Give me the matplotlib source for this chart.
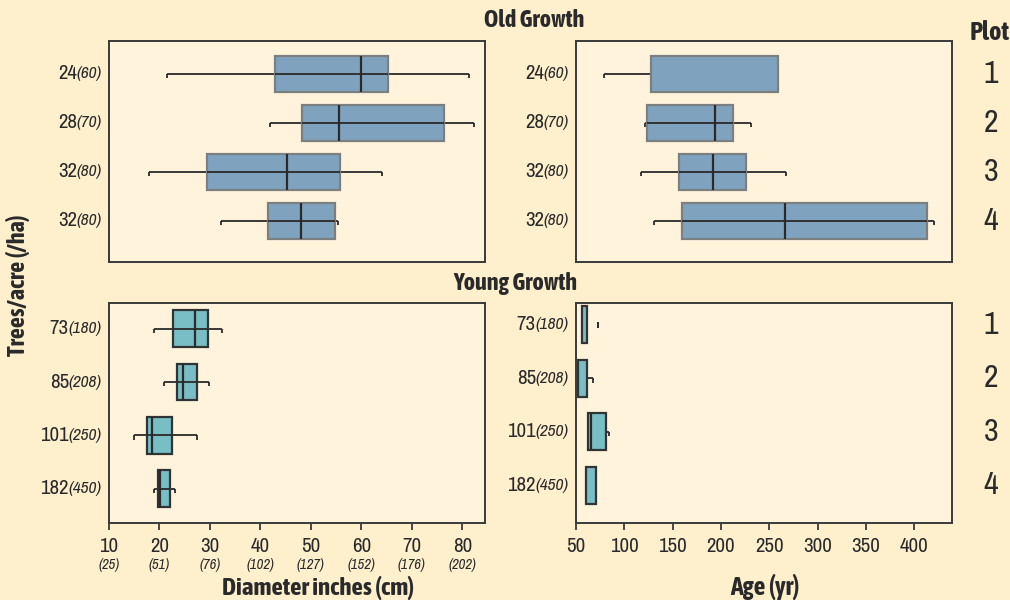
import matplotlib
matplotlib.use("Agg")
import matplotlib.pyplot as plt
from matplotlib import font_manager

# find a narrow face, and one that also has a bold weight
weights = {}
for f in font_manager.fontManager.ttflist:
    if 'Narrow' in f.name or 'Condensed' in f.name:
        w = f.weight if isinstance(f.weight, int) else font_manager.weight_dict.get(f.weight, 400)
        weights.setdefault(f.name, set()).add(w)
narrow = sorted(weights)
narrow_bold = [n for n in narrow if max(weights[n]) >= 600]
REG_FONT = (narrow[:1] if narrow else []) + ['DejaVu Sans']
BOLD_FONT = (narrow_bold[:1] if narrow_bold else ['Liberation Sans']) + ['DejaVu Sans']
plt.rcParams['font.family'] = REG_FONT

# Stand density labels (trees/acre and /ha)
old_density = ["24", "28", "32", "32"]
old_density_ha = ["(60)", "(70)", "(80)", "(80)"]
young_density = ["73", "85", "101", "182"]
young_density_ha = ["(180)", "(208)", "(250)", "(450)"]
plot_ids = ["1", "2", "3", "4"]

# Old growth diameter (inches): whisker low, q1, median, q3, whisker high
old_diam_lo = [21.4, 41.9, 17.9, 32.1]
old_diam_q1 = [42.8, 48.2, 29.5, 41.6]
old_diam_med = [60.0, 55.5, 45.2, 48.0]
old_diam_q3 = [65.3, 76.3, 55.7, 54.7]
old_diam_hi = [81.4, 82.3, 64.1, 55.3]

# Old growth age (yr)
old_age_lo = [79.3, 121.4, 117.2, 130.4]
old_age_q1 = [127.6, 123.8, 156.2, 159.7]
old_age_med = [None, 193.8, 191.7, 266.2]
old_age_q3 = [259.0, 212.8, 225.9, 413.1]
old_age_hi = [259.0, 231.4, 266.9, 420.7]

# Young growth diameter (inches)
young_diam_lo = [18.85, 20.95, 15.0, 18.85]
young_diam_q1 = [22.7, 23.4, 17.5, 19.7]
young_diam_med = [27.1, 24.6, 18.6, 20.2]
young_diam_q3 = [29.7, 27.4, 22.5, 22.0]
young_diam_hi = [32.3, 29.9, 27.5, 23.1]

# Young growth age (yr)
young_age_lo = [56.6, 51.7, 62.1, 60.7]
young_age_q1 = [56.6, 51.7, 62.1, 60.7]
young_age_med = [None, None, 65.9, None]
young_age_q3 = [61.4, 61.0, 80.7, 70.4]
young_age_hi = [61.4, 67.2, 84.1, 70.4]
young_age_outlier = [72.8, None, None, None]

diam_ticks = [10, 20, 30, 40, 50, 60, 70, 80]
diam_ticks_cm = ["(25)", "(51)", "(76)", "(102)", "(127)", "(152)", "(176)", "(202)"]
age_ticks = [50, 100, 150, 200, 250, 300, 350, 400]

BG = '#FEEFCD'
PANEL = '#FFF3DB'
OLD_FILL = '#7FA3BF'
OLD_EDGE = '#7C7F80'
YOUNG_FILL = '#79BEC4'
YOUNG_EDGE = '#2F3436'
INK = '#2A2A2A'


def draw_boxes(ax, lo, q1, med, q3, hi, fill, edge, height, through=True, cap=0.08):
    for i in range(len(q1)):
        y = i + 1
        if lo[i] < q1[i]:
            ax.hlines(y, lo[i], q1[i], color=INK, lw=1.3, zorder=2)
            ax.vlines(lo[i], y, y + cap, color=INK, lw=1.3, zorder=2)
        if hi[i] > q3[i]:
            ax.hlines(y, q3[i], hi[i], color=INK, lw=1.3, zorder=2)
            ax.vlines(hi[i], y, y + cap, color=INK, lw=1.3, zorder=2)
        ax.add_patch(plt.Rectangle((q1[i], y - height / 2), q3[i] - q1[i], height,
                                   facecolor=fill, edgecolor=edge, lw=1.6, zorder=3))
        if med[i] is not None:
            if through:
                ax.hlines(y, q1[i], q3[i], color=INK, lw=1.3, zorder=4)
            ax.vlines(med[i], y - height / 2, y + height / 2, color=INK, lw=1.6, zorder=4)


def style_axes(ax, xlim, ylim):
    ax.set_facecolor(PANEL)
    ax.set_xlim(*xlim)
    ax.set_ylim(*ylim)
    for s in ax.spines.values():
        s.set_color('#3A3A3A')
        s.set_linewidth(1.4)
        s.set_zorder(5)
    ax.set_yticks([])


def density_labels(ax, nums, has):
    for i, (n, h) in enumerate(zip(nums, has)):
        t = ax.annotate(h, xy=(0, i + 1), xycoords=('axes fraction', 'data'),
                        xytext=(-5, 0), textcoords='offset points',
                        ha='right', va='center', fontsize=12.5, style='italic', color=INK)
        ax.annotate(n, xy=(0, 0.5), xycoords=t, ha='right', va='center',
                    fontsize=15, color=INK)


fig = plt.figure(figsize=(10.1, 6.0), dpi=100)
fig.patch.set_facecolor(BG)

ax_od = fig.add_axes([0.1079, 0.5633, 0.3723, 0.3683])
ax_oa = fig.add_axes([0.5703, 0.5633, 0.3723, 0.3683])
ax_yd = fig.add_axes([0.1079, 0.1283, 0.3723, 0.3667])
ax_ya = fig.add_axes([0.5703, 0.1283, 0.3723, 0.3667])

draw_boxes(ax_od, old_diam_lo, old_diam_q1, old_diam_med, old_diam_q3, old_diam_hi,
           OLD_FILL, OLD_EDGE, 0.74)
draw_boxes(ax_oa, old_age_lo, old_age_q1, old_age_med, old_age_q3, old_age_hi,
           OLD_FILL, OLD_EDGE, 0.74)
draw_boxes(ax_yd, young_diam_lo, young_diam_q1, young_diam_med, young_diam_q3, young_diam_hi,
           YOUNG_FILL, YOUNG_EDGE, 0.69)
draw_boxes(ax_ya, young_age_lo, young_age_q1, young_age_med, young_age_q3, young_age_hi,
           YOUNG_FILL, YOUNG_EDGE, 0.69, through=False)
for i, v in enumerate(young_age_outlier):
    if v is not None:
        ax_ya.plot([v], [i + 1], marker='|', ms=5, mew=1.4, color=INK, zorder=4)

style_axes(ax_od, (10, 84.5), (4.84, 0.33))
style_axes(ax_oa, (50, 439), (4.84, 0.33))
style_axes(ax_yd, (10, 84.5), (4.64, 0.52))
style_axes(ax_ya, (50, 439), (4.71, 0.59))

for ax in (ax_od, ax_oa):
    ax.set_xticks([])

ax_yd.set_xticks(diam_ticks)
ax_yd.set_xticklabels([])
for x, cm in zip(diam_ticks, diam_ticks_cm):
    ax_yd.annotate(str(x), xy=(x, 0), xycoords=('data', 'axes fraction'),
                   xytext=(0, -10), textcoords='offset points',
                   ha='center', va='top', fontsize=15, color=INK)
    ax_yd.annotate(cm, xy=(x, 0), xycoords=('data', 'axes fraction'),
                   xytext=(0, -25), textcoords='offset points',
                   ha='center', va='top', fontsize=10.5, style='italic', color=INK)
ax_ya.set_xticks(age_ticks)
ax_ya.set_xticklabels([str(a) for a in age_ticks], fontsize=15, color=INK)
for ax in (ax_yd, ax_ya):
    ax.tick_params(axis='x', direction='out', length=5, width=1.3, color='#3A3A3A', pad=5)

density_labels(ax_od, old_density, old_density_ha)
density_labels(ax_oa, old_density, old_density_ha)
density_labels(ax_yd, young_density, young_density_ha)
density_labels(ax_ya, young_density, young_density_ha)

for ax in (ax_oa, ax_ya):
    for i, p in enumerate(plot_ids):
        ax.annotate(p, xy=(1, i + 1), xycoords=('axes fraction', 'data'),
                    xytext=(28, 0), textcoords='offset points',
                    ha='center', va='center', fontsize=23, color=INK,
                    annotation_clip=False)

bold = dict(family=BOLD_FONT, fontweight='bold', color=INK)
fig.text(0.529, 0.966, "Old Growth", ha='center', va='center', fontsize=17.5, **bold)
fig.text(0.51, 0.527, "Young Growth", ha='center', va='center', fontsize=17.5, **bold)
fig.text(0.960, 0.945, "Plot", ha='left', va='center', fontsize=19, **bold)
fig.text(0.018, 0.525, "Trees/acre (/ha)", ha='center', va='center', rotation=90,
         fontsize=17.5, **bold)
fig.text(0.315, 0.02, "Diameter inches (cm)", ha='center', va='center', fontsize=18, **bold)
fig.text(0.757, 0.022, "Age (yr)", ha='center', va='center', fontsize=18.5, **bold)

fig.savefig("out.png", dpi=100, facecolor=BG)
